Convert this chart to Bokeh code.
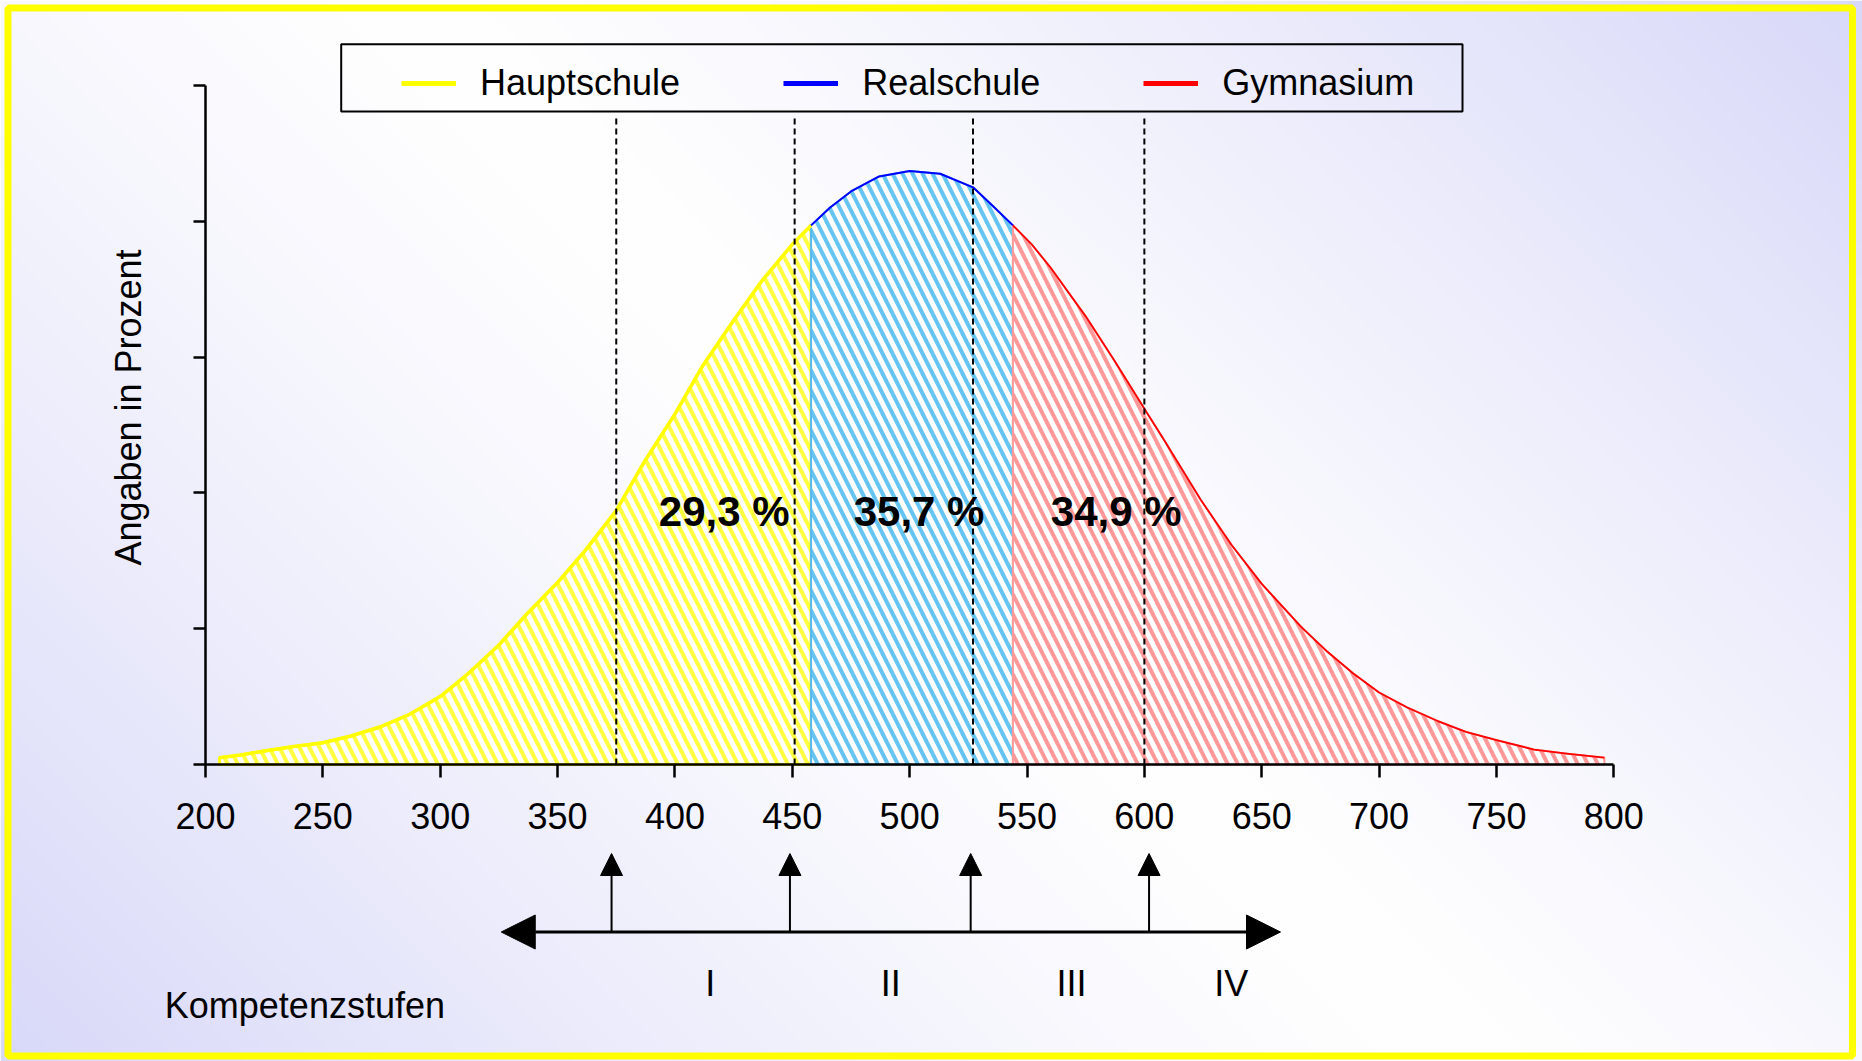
import numpy as np
from bokeh.plotting import figure
from bokeh.models import (Range1d, LinearAxis, FixedTicker, ColumnDataSource, Arrow,
                          NormalHead, Legend, LegendItem, BoxAnnotation, Label)
from bokeh.core.properties import value
from bokeh.embed import file_html
from bokeh.resources import INLINE

# ---------------- data ----------------
scores = [206, 215, 225, 237, 250, 262, 275, 287, 300, 312, 325, 337, 350, 362,
          375, 387, 400, 412, 425, 437, 450, 458, 466, 475, 487, 500, 513, 527,
          535, 544, 552, 560, 575, 587, 600, 608, 624, 637, 650, 667, 678, 689,
          700, 712, 725, 737, 750, 766, 780, 796]
density = [0.05, 0.07, 0.10, 0.13, 0.16, 0.21, 0.28, 0.37, 0.50, 0.67, 0.88, 1.11,
           1.34, 1.58, 1.87, 2.23, 2.58, 2.94, 3.27, 3.56, 3.83, 3.97, 4.10, 4.22,
           4.33, 4.37, 4.35, 4.25, 4.12, 3.97, 3.83, 3.66, 3.30, 2.98, 2.62, 2.40,
           1.95, 1.62, 1.33, 1.01, 0.83, 0.67, 0.53, 0.42, 0.32, 0.24, 0.18, 0.11,
           0.08, 0.05]
group_names = ["Hauptschule", "Realschule", "Gymnasium"]
group_bounds = [206, 458, 544, 796]
group_shares = ["29,3 %", "35,7 %", "34,9 %"]
level_cuts = [375, 451, 527, 600]        # dashed threshold lines
arrow_scores = [373, 449, 526, 602]      # arrows on the Kompetenzstufen scale
scale_span = [326, 658]                  # ends of the double arrow
level_names = ["I", "II", "III", "IV"]
x_ticks = [200, 250, 300, 350, 400, 450, 500, 550, 600, 650, 700, 750, 800]
y_ticks = [0, 1, 2, 3, 4, 5]

# ---------------- layout ----------------
W, H = 1862, 1061
OFF = 0
X0_REF, X1_REF = 205.0, 1613.3      # pixel of score 200 / 800
Y0_REF, Y5_REF = 764.0, 85.0        # pixel of 0 / 5
KX = (X1_REF - X0_REF) / 600.0
KY = (Y0_REF - Y5_REF) / 5.0


def sx(px):
    return 200 + (px - X0_REF) / KX


def sy(py):
    return (Y0_REF - py) / KY


FONT = "Liberation Sans"

p = figure(width=W, height=H, x_range=Range1d(sx(OFF), sx(OFF + W)),
           y_range=Range1d(sy(OFF + H), sy(OFF)), min_border=0,
           toolbar_location=None, output_backend="svg",
           x_axis_type=None, y_axis_type=None)
p.outline_line_color = None
p.background_fill_color = "white"
p.border_fill_color = "white"

# background gradient
nx, ny = W // 3, H // 3
xr = OFF + (np.arange(nx) + 0.5) / nx * W
yr = OFF + H - (np.arange(ny) + 0.5) / ny * H   # row 0 = bottom
XX, YY = np.meshgrid(xr, yr)
s = (XX + (1061 - YY)) / (1862 + 1061)
a = np.abs(2 * s - 1) ** 1.25
img = np.empty((ny, nx), dtype=np.uint32)
v = img.view(dtype=np.uint8).reshape((ny, nx, 4))
lav = (216, 216, 249)
for k in range(3):
    v[:, :, k] = np.clip(255 * (1 - a) + lav[k] * a, 0, 255).astype(np.uint8)
v[:, :, 3] = 255
p.image_rgba(image=[img], x=sx(OFF), y=sy(OFF + H), dw=sx(OFF + W) - sx(OFF),
             dh=sy(OFF) - sy(OFF + H))

# ---------------- areas ----------------
sc = np.array(scores, dtype=float)
de = np.array(density, dtype=float)
hatch_cols = ["#ffff40", "#66c4f2", "#ff9999"]
edge_cols = ["#ffff00", "#55b8f0", "#ff9a9a"]
edge_w = [3, 2, 2]
top_cols = ["#ffff00", "#0000ff", "#ff0000"]
top_w = [3.5, 2, 1.8]
legend_cols = ["#ffff00", "#0000ff", "#ff0000"]

for i in range(3):
    lo, hi = group_bounds[i], group_bounds[i + 1]
    m = (sc >= lo) & (sc <= hi)
    xs = list(sc[m]) + [hi, lo]
    ys = list(de[m]) + [0, 0]
    p.patch(x=xs, y=ys, fill_color="white", fill_alpha=0.95,
            hatch_pattern="\\", hatch_color=hatch_cols[i], hatch_weight=4,
            hatch_scale=20, line_color=edge_cols[i], line_width=edge_w[i],
            line_join="round")
for i in range(3):
    lo, hi = group_bounds[i], group_bounds[i + 1]
    m = (sc >= lo) & (sc <= hi)
    p.line(x=list(sc[m]), y=list(de[m]), line_color=top_cols[i],
           line_width=top_w[i], line_join="round")

# dashed threshold lines
p.segment(x0=level_cuts, y0=[0] * len(level_cuts), x1=level_cuts,
          y1=[sy(114)] * len(level_cuts), line_color="black", line_width=2,
          line_dash="6 4")

# percentage labels
p.text(x=[421, 504, 588], y=[sy(511)] * 3, text=group_shares,
       text_font=value(FONT), text_font_size="42px", text_font_style="bold",
       text_align="center", text_baseline="middle", text_color="black")

# ---------------- axes ----------------
xaxis = LinearAxis(fixed_location=0, ticker=FixedTicker(ticks=x_ticks),
                   bounds=(200, 800), axis_line_width=2.5,
                   major_tick_line_width=2.5, major_tick_in=0, major_tick_out=13,
                   minor_tick_line_color=None, major_label_text_font=FONT,
                   major_label_text_font_size="36px", major_label_standoff=25,
                   major_label_text_color="black")
p.add_layout(xaxis, "below")
yaxis = LinearAxis(fixed_location=200, ticker=FixedTicker(ticks=y_ticks),
                   bounds=(0, 5), axis_line_width=2.5, major_tick_line_width=2.5,
                   major_tick_in=0, major_tick_out=12, minor_tick_line_color=None,
                   major_label_text_color=None)
p.add_layout(yaxis, "left")

p.add_layout(Label(x=sx(127.5), y=sy(407), text="Angaben in Prozent", angle=np.pi / 2,
                   text_align="center", text_baseline="middle", text_font=FONT,
                   text_font_size="36px", text_color="black"))

# ---------------- Kompetenzstufen scale ----------------
Y_ARR = sy(931.5)
Y_TIP = sy(853)
p.add_layout(Arrow(x_start=scale_span[0], y_start=Y_ARR, x_end=scale_span[1], y_end=Y_ARR,
                   start=NormalHead(size=34, fill_color="black", line_color="black", line_width=1),
                   end=NormalHead(size=34, fill_color="black", line_color="black", line_width=1),
                   line_width=3, line_color="black"))
arr_src = ColumnDataSource(dict(x=arrow_scores, y0=[Y_ARR] * 4, y1=[Y_TIP] * 4))
p.add_layout(Arrow(source=arr_src, x_start="x", y_start="y0", x_end="x", y_end="y1",
                   end=NormalHead(size=22, fill_color="black", line_color="black", line_width=1),
                   line_width=2, line_color="black"))
p.text(x=[415, 492, 569, 637], y=[sy(983.3)] * 4, text=level_names,
       text_font=value(FONT), text_font_size="36px", text_align="center",
       text_baseline="middle", text_color="black")
p.add_layout(Label(x=sx(164.3), y=sy(1005), text="Kompetenzstufen", text_align="left",
                   text_baseline="middle", text_font=FONT, text_font_size="36px",
                   text_color="black"))

# ---------------- legend ----------------
leg_r = [p.line(x=[np.nan], y=[np.nan], line_color=c, line_width=5) for c in legend_cols]
p.add_layout(BoxAnnotation(left=sx(340.7), right=sx(1462), top=sy(43.7), bottom=sy(111),
                           fill_color=None, line_color="black", line_alpha=1, line_width=2))
legend = Legend(items=[LegendItem(label=n, renderers=[r]) for n, r in zip(group_names, leg_r)],
                orientation="horizontal", location=(401, 957), glyph_width=55,
                glyph_height=20, label_standoff=24, spacing=103, padding=10, margin=0,
                border_line_color=None, background_fill_alpha=0,
                label_text_font=FONT, label_text_font_size="36px", label_height=40,
                label_text_color="black")
p.add_layout(legend)

# yellow frame
p.add_layout(BoxAnnotation(left=sx(7.5), right=sx(1852), top=sy(7.5),
                           bottom=sy(1055.5), fill_color=None,
                           line_color="#ffff00", line_alpha=1, line_width=7))

open("out.html", "w").write(file_html(p, INLINE))
